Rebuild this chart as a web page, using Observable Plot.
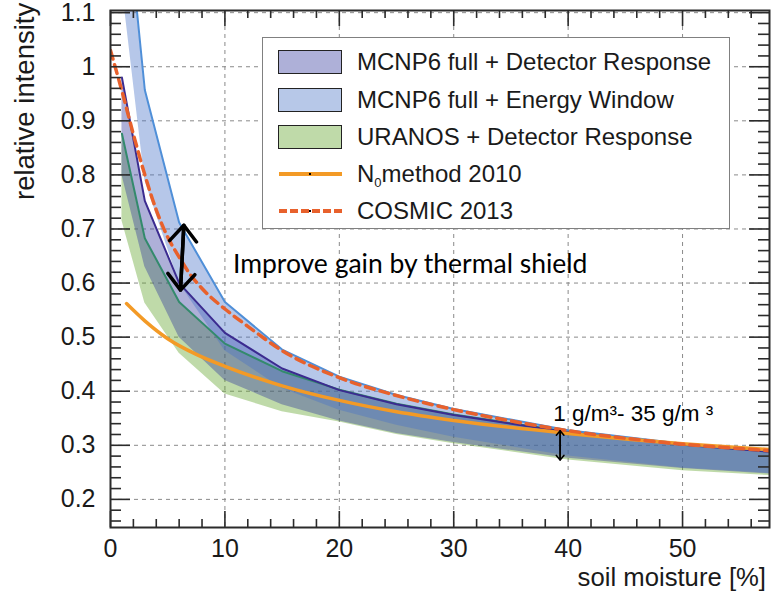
<!DOCTYPE html>
<html><head><meta charset="utf-8">
<script src="https://cdn.jsdelivr.net/npm/d3@7"></script>
<script src="https://cdn.jsdelivr.net/npm/@observablehq/plot@0.6"></script>
<style>
body{margin:0;background:#fff;}
#wrap{position:relative;width:777px;height:595px;font-family:"Liberation Sans",Arial,sans-serif;color:#1a1a1a;}
#wrap svg{position:absolute;left:0;top:0;overflow:visible;}
.legend{position:absolute;left:262px;top:37px;width:466px;height:190px;border:1.5px solid #808080;background:#fff;}
.sw{position:absolute;left:15px;width:62px;height:22px;border:1.3px solid #222;}
.ln{position:absolute;left:16px;width:63px;height:0;}
.lt{position:absolute;left:94px;font-size:24px;line-height:26px;white-space:nowrap;}
.dot{position:absolute;width:2px;height:2px;background:#000;}
.ytitle{position:absolute;left:11px;top:200px;transform-origin:left top;transform:rotate(-90deg);font-size:27.5px;line-height:27px;white-space:nowrap;}
.xtitle{position:absolute;right:11px;top:565px;font-size:25.7px;line-height:25px;white-space:nowrap;}
</style></head><body><div id="wrap"></div>
<script>
// ---- data ----
const moisture = [1, 3, 6, 10, 15, 20, 25, 30, 40, 50, 57.6];
const ewUpper  = [1.38, 0.957, 0.712, 0.565, 0.477, 0.427, 0.393, 0.367, 0.328, 0.303, 0.290];
const ewLower  = [1.15, 0.79, 0.60, 0.475, 0.405, 0.365, 0.337, 0.315, 0.280, 0.258, 0.248];
const drUpper  = [0.98, 0.752, 0.600, 0.508, 0.442, 0.402, 0.376, 0.356, 0.324, 0.301, 0.288];
const drLower  = [0.80, 0.63, 0.50, 0.42, 0.375, 0.345, 0.322, 0.305, 0.276, 0.257, 0.247];
const urUpper  = [0.876, 0.683, 0.565, 0.488, 0.437, 0.403, 0.377, 0.357, 0.325, 0.302, 0.289];
const urLower  = [0.715, 0.563, 0.47, 0.395, 0.362, 0.343, 0.320, 0.303, 0.273, 0.253, 0.244];

const n0X = [1.4, 3, 5, 7.5, 10, 15, 20, 25, 30, 40, 50, 57.6];
const n0Y = [0.562, 0.53, 0.497, 0.468, 0.446, 0.41, 0.383, 0.362, 0.346, 0.322, 0.303, 0.292];

const cosmicX = [0, 1, 2, 3, 4, 5, 6, 7, 8, 10, 12, 15, 20, 25, 30, 35, 40, 45, 50, 55, 57.6];
const cosmicY = [1.03, 0.955, 0.875, 0.80, 0.735, 0.685, 0.648, 0.615, 0.59, 0.552, 0.52, 0.475, 0.425, 0.392, 0.366, 0.345, 0.327, 0.313, 0.302, 0.294, 0.29];

const xMajor = [0, 10, 20, 30, 40, 50];
const xMinor = [2,4,6,8,12,14,16,18,22,24,26,28,32,34,36,38,42,44,46,48,52,54,56];
const yMajor = [0.2, 0.3, 0.4, 0.5, 0.6, 0.7, 0.8, 0.9, 1.0, 1.1];
const yTickLabels = ["0.2","0.3","0.4","0.5","0.6","0.7","0.8","0.9","1","1.1"];
const yMinor = d3.range(16, 110, 2).map(v => v / 100).filter(v => !yMajor.some(m => Math.abs(m - v) < 1e-9));

const seriesNames = ["MCNP6 full + Detector Response", "MCNP6 full + Energy Window", "URANOS + Detector Response", "N₀method 2010", "COSMIC 2013"];
const gainArrow = [{x1: 6.12, y1: 0.587, x2: 6.41, y2: 0.707}];
const gainText = [{x: 10.7, y: 0.635, label: "Improve gain by thermal shield"}];
const humArrow = [{x1: 39.3, y1: 0.273, x2: 39.3, y2: 0.327}];
const humText = [{x: 38.7, y: 0.358, label: "1 g/m³- 35 g/m ³"}];

// ---- tables ----
const band = (lo, hi) => moisture.map((x, i) => ({x, lo: lo[i], hi: hi[i]}));
const ew = band(ewLower, ewUpper);
const dr = band(drLower, drUpper);
const ur = band(urLower, urUpper);
const n0 = n0X.map((x, i) => ({x, y: n0Y[i]}));
const cosmic = cosmicX.map((x, i) => ({x, y: cosmicY[i]}));

const W = 777, H = 595, mL = 110, mR = 8, mT = 10, mB = 68;
const iw = W - mL - mR, ih = H - mT - mB;

const colEW = "#4874c8", colDR = "#34399d", colUR = "#5fa228";
const gridStyle = {stroke: "#8a8a8a", strokeDasharray: "4,4", strokeWidth: 1};
const tickStyle = {stroke: "#2b2b2b", strokeWidth: 1.6};

const chart = Plot.plot({
  width: W, height: H,
  marginLeft: mL, marginRight: mR, marginTop: mT, marginBottom: mB,
  style: {fontFamily: '"Liberation Sans", Arial, sans-serif', fontSize: "25px", color: "#1a1a1a", background: "transparent"},
  x: {domain: [0, 57.6], ticks: xMajor, tickSize: 0, tickPadding: 12, tickFormat: d => String(d), label: null},
  y: {domain: [0.148, 1.104], ticks: yMajor, tickSize: 0, tickPadding: 15, tickFormat: d => yTickLabels[yMajor.findIndex(m => Math.abs(m - d) < 1e-9)], label: null},
  marks: [
    Plot.ruleX(xMajor.filter(d => d > 0), gridStyle),
    Plot.ruleY(yMajor, gridStyle),
    Plot.areaY(ur, {x: "x", y1: "lo", y2: "hi", fill: colUR, fillOpacity: 0.4, clip: true}),
    Plot.areaY(dr, {x: "x", y1: "lo", y2: "hi", fill: colDR, fillOpacity: 0.4, clip: true}),
    Plot.areaY(ew, {x: "x", y1: "lo", y2: "hi", fill: colEW, fillOpacity: 0.4, clip: true}),
    Plot.line(ur, {x: "x", y: "hi", stroke: "#338a6c", strokeWidth: 2, clip: true}),
    Plot.line(dr, {x: "x", y: "hi", stroke: "#3b2b90", strokeWidth: 2, clip: true}),
    Plot.line(ew, {x: "x", y: "hi", stroke: "#4f8fd8", strokeWidth: 2, clip: true}),
    Plot.line(n0, {x: "x", y: "y", stroke: "#f39a26", strokeWidth: 3.5, curve: "monotone-x", clip: true}),
    Plot.line(cosmic, {x: "x", y: "y", stroke: "#e8612c", strokeWidth: 3.5, strokeDasharray: "9,6", curve: "monotone-x", clip: true}),
    Plot.arrow(gainArrow, {x1: "x1", y1: "y1", x2: "x2", y2: "y2", stroke: "#000", strokeWidth: 3.5, headLength: 9, headAngle: 80}),
    Plot.arrow(gainArrow, {x1: "x2", y1: "y2", x2: "x1", y2: "y1", stroke: "#000", strokeWidth: 3.5, headLength: 9, headAngle: 80}),
    Plot.arrow(humArrow, {x1: "x1", y1: "y1", x2: "x2", y2: "y2", stroke: "#000", strokeWidth: 1.6, headLength: 5.5, headAngle: 80}),
    Plot.arrow(humArrow, {x1: "x2", y1: "y2", x2: "x1", y2: "y1", stroke: "#000", strokeWidth: 1.6, headLength: 5.5, headAngle: 80}),
    Plot.text(gainText, {x: "x", y: "y", text: "label", textAnchor: "start", fontFamily: "Lato, 'Open Sans', sans-serif", fontSize: 26.5, fill: "#000"}),
    Plot.text(humText, {x: "x", y: "y", text: "label", textAnchor: "start", fontSize: 22.5, fill: "#000"}),
    // ticks (inward, all four sides)
    Plot.tickX(xMajor, {insetTop: ih - 16, ...tickStyle}),
    Plot.tickX(xMinor, {insetTop: ih - 8, ...tickStyle}),
    Plot.tickX(xMajor, {insetBottom: ih - 16, ...tickStyle}),
    Plot.tickX(xMinor, {insetBottom: ih - 8, ...tickStyle}),
    Plot.tickY(yMajor, {insetRight: iw - 20, ...tickStyle}),
    Plot.tickY(yMinor, {insetRight: iw - 11, ...tickStyle}),
    Plot.tickY(yMajor, {insetLeft: iw - 20, ...tickStyle}),
    Plot.tickY(yMinor, {insetLeft: iw - 11, ...tickStyle}),
    Plot.frame({stroke: "#2b2b2b", strokeWidth: 2})
  ]
});

const wrap = document.getElementById("wrap");
wrap.appendChild(chart);

// axis titles
const yt = document.createElement("div"); yt.className = "ytitle"; yt.textContent = "relative intensity"; wrap.appendChild(yt);
const xt = document.createElement("div"); xt.className = "xtitle"; xt.textContent = "soil moisture [%]"; wrap.appendChild(xt);

// legend
const lg = document.createElement("div"); lg.className = "legend"; wrap.appendChild(lg);
const swFill = ["#aeb0d8", "#b7c8e8", "#bfdaa9"];
const rowY = [24, 62, 99, 136, 173];
seriesNames.forEach((name, i) => {
  if (i < 3) {
    const s = document.createElement("div"); s.className = "sw";
    s.style.top = (rowY[i] - 12) + "px"; s.style.background = swFill[i]; lg.appendChild(s);
  } else {
    const l = document.createElement("div"); l.className = "ln";
    l.style.top = (rowY[i] - 2) + "px";
    l.style.borderTop = i === 3 ? "4px solid #f39a26" : "4px dashed #e8612c";
    lg.appendChild(l);
    const d = document.createElement("div"); d.className = "dot";
    d.style.left = "46px"; d.style.top = (rowY[i] - 1) + "px"; lg.appendChild(d);
  }
  const t = document.createElement("div"); t.className = "lt";
  t.style.top = (rowY[i] - 13) + "px";
  if (i === 3) { t.innerHTML = "N<sub style='font-size:13px;vertical-align:-5px'>0</sub>method 2010"; }
  else t.textContent = name;
  lg.appendChild(t);
});
</script></body></html>
